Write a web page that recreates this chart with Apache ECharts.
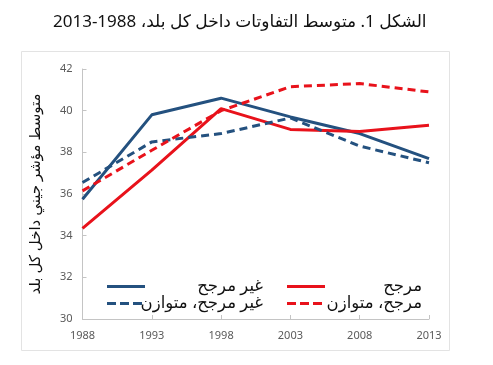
<!DOCTYPE html>
<html>
<head>
<meta charset="utf-8">
<script src="https://cdn.jsdelivr.net/npm/echarts@6/dist/echarts.min.js"></script>
<style>
html,body{margin:0;padding:0;background:#fff;}
#c{width:493px;height:365px;}
</style>
</head>
<body>
<div id="c"></div>
<script>
var years = ['1988','1993','1998','2003','2008','2013'];
var seriesNames = ['غير مرجح', 'مرجح', 'غير مرجح، متوازن', 'مرجح، متوازن'];
var unweighted = [35.75, 39.8, 40.6, 39.7, 38.9, 37.7];
var weighted = [34.35, 37.15, 40.1, 39.1, 39.0, 39.3];
var unweightedBalanced = [36.55, 38.5, 38.9, 39.65, 38.3, 37.5];
var weightedBalanced = [36.15, 38.1, 40.0, 41.15, 41.3, 40.9];
var yTicks = {min: 30, max: 42, interval: 2};
var titleText = 'الشكل 1. متوسط التفاوتات داخل كل بلد، 1988-2013';
var yAxisName = 'متوسط مؤشر جيني داخل كل بلد';

var BLUE = '#24517f';
var RED = '#e8121b';
var FONT = 'Noto Sans, DejaVu Sans, sans-serif';
var RLE = '\u202B', PDF = '\u202C';
function rtl(s) { return RLE + s + PDF; }

var SOLID_ICON = 'path://M0,0h38v3h-38z';
var DASH_ICON = 'path://M0,0h9v3h-9z M13,0h9v3h-9z M26,0h9v3h-9z';

function mkLegend(name, left, top, textWidth, dashed) {
  return {
    data: [name],
    left: left, top: top,
    icon: dashed ? DASH_ICON : SOLID_ICON,
    itemWidth: dashed ? 35 : 38, itemHeight: 3, itemGap: 0,
    formatter: function (n) { return '{t|' + rtl(n) + '}'; },
    textStyle: {
      rich: { t: { width: textWidth, align: 'right', fontSize: 16.5, color: '#111', fontFamily: FONT } }
    }
  };
}

var chart = echarts.init(document.getElementById('c'), null, {renderer: 'canvas'});
chart.setOption({
  animation: false,
  backgroundColor: '#fff',
  textStyle: {fontFamily: FONT},
  title: {
    text: rtl(titleText),
    left: 48, top: 9,
    textStyle: {fontSize: 17, fontWeight: 'normal', color: '#111', fontFamily: FONT}
  },
  graphic: [{
    type: 'rect', shape: {x: 21.5, y: 51.5, width: 428, height: 299},
    style: {fill: 'none', stroke: '#e3e3e3', lineWidth: 1}, silent: true, z: -1
  }],
  legend: [
    mkLegend(seriesNames[0], 102, 273, 113, false),
    mkLegend(seriesNames[1], 282, 273, 92, false),
    mkLegend(seriesNames[2], 102, 290, 116, true),
    mkLegend(seriesNames[3], 282, 290, 95, true)
  ],
  grid: {left: 82.5, right: 64, top: 69, bottom: 46, containLabel: false},
  xAxis: {
    type: 'category', data: years, boundaryGap: false,
    axisLine: {lineStyle: {color: '#c4c4c4'}},
    axisTick: {inside: true, length: 4, lineStyle: {color: '#c4c4c4'}},
    axisLabel: {color: '#5a5a5a', fontSize: 11, margin: 11}
  },
  yAxis: {
    type: 'value', min: yTicks.min, max: yTicks.max, interval: yTicks.interval,
    name: rtl(yAxisName), nameLocation: 'middle', nameRotate: 90, nameGap: 39,
    nameTextStyle: {fontSize: 15, color: '#111', fontFamily: FONT},
    axisLine: {show: true, lineStyle: {color: '#c4c4c4'}},
    axisTick: {show: true, inside: true, length: 4, lineStyle: {color: '#c4c4c4'}},
    splitLine: {show: false},
    axisLabel: {color: '#5a5a5a', fontSize: 11, margin: 10}
  },
  series: [
    {name: seriesNames[0], type: 'line', data: unweighted, symbol: 'none', lineStyle: {color: BLUE, width: 3}, itemStyle: {color: BLUE}},
    {name: seriesNames[1], type: 'line', data: weighted, symbol: 'none', lineStyle: {color: RED, width: 3}, itemStyle: {color: RED}},
    {name: seriesNames[2], type: 'line', data: unweightedBalanced, symbol: 'none', lineStyle: {color: BLUE, width: 3, type: [8, 5]}, itemStyle: {color: BLUE}},
    {name: seriesNames[3], type: 'line', data: weightedBalanced, symbol: 'none', lineStyle: {color: RED, width: 3, type: [8, 5]}, itemStyle: {color: RED}}
  ]
});
</script>
</body>
</html>
